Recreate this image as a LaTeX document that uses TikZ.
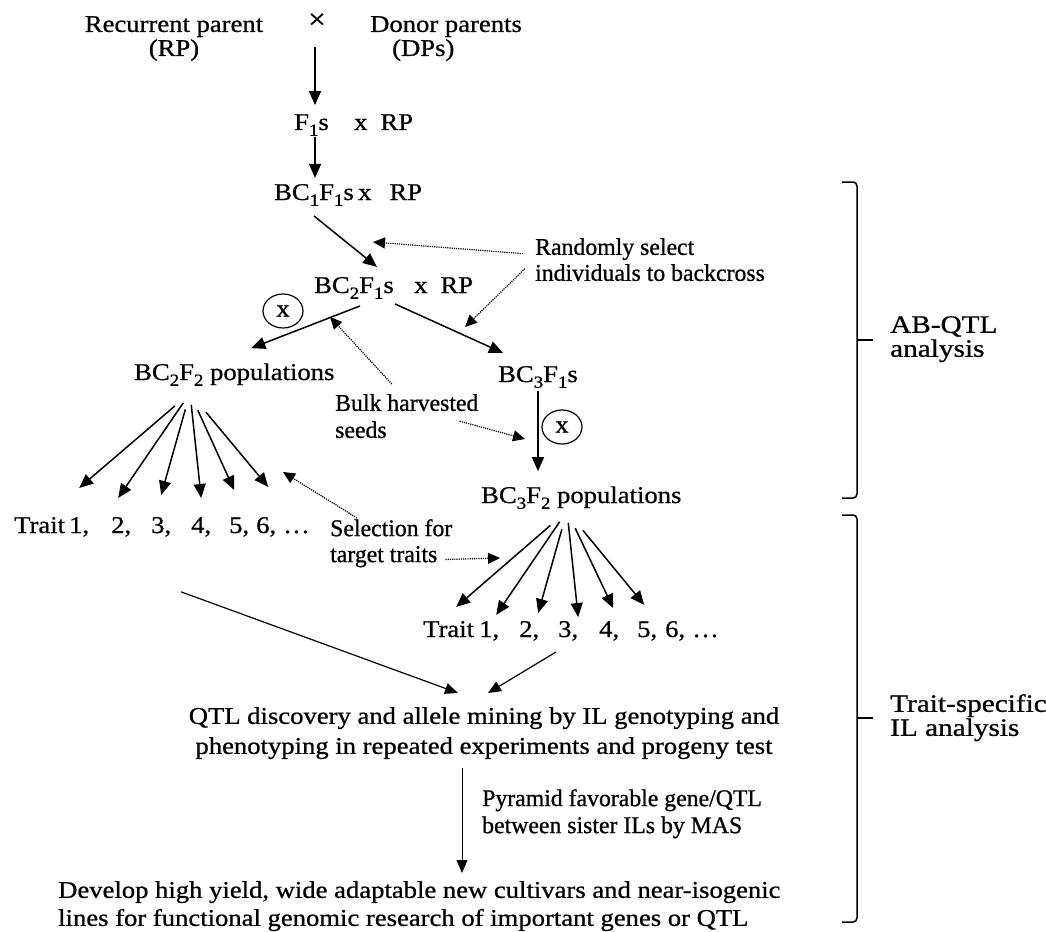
\documentclass[tikz,border=0pt]{standalone}
\usepackage{fontspec}
\setmainfont{Liberation Serif}[FakeStretch=1.11, FakeBold=0.8]
\newfontfamily\tightfont{Liberation Serif}[FakeStretch=0.99, FakeBold=0.8]
\newfontfamily\widefont{Liberation Serif}[FakeStretch=1.17, FakeBold=0.8]
\usetikzlibrary{positioning,arrows.meta,shapes.geometric}

\newcommand{\lowsub}[1]{\raisebox{-0.24em}{\fontsize{17}{17}\selectfont #1}}

\begin{document}
\begin{tikzpicture}[x=1pt, y=-1pt,
    every node/.style={inner sep=1pt, font=\fontsize{24}{24}\selectfont},
    gen/.style={anchor=base west},
    note/.style={anchor=north west, align=left},
    hintnote/.style={note, font=\tightfont\fontsize{24}{26}\selectfont},
    darrow/.style={-{Triangle[length=14pt,width=12pt]}, line width=1.5pt},
    larrow/.style={-{Triangle[length=13pt,width=11pt]}, line width=1.2pt},
    dotarrow/.style={-{Triangle[length=12pt,width=11pt]}, line width=1.2pt, densely dotted},
    selfing/.style={draw, ellipse, line width=1.2pt, minimum width=40pt, minimum height=34pt, inner sep=0pt},
    brace/.style={line width=1.5pt, rounded corners=4pt},
  ]
  \useasboundingbox (0,0) rectangle (1046,931);

  % parents
  \node[align=center, anchor=north] (rp) at (174,15) {Recurrent parent\\(RP)};
  \node[font=\fontsize{28}{28}\selectfont] (cross) at (317,21) {×};
  \node[note] (dp) at (369,15) {Donor parents\\\hspace{22pt}(DPs)};

  % backcross generations
  \node[gen] (f1) at (293,130) {F\lowsub{1}s};
  \node[gen] (f1rp) at (353,130) {x\hspace{13pt}RP};
  \node[gen] (bc1) at (273,200) {BC\lowsub{1}F\lowsub{1}s};
  \node[gen] (bc1rp) at (357,200) {x\hspace{18pt}RP};
  \node[gen] (bc2) at (313,293) {BC\lowsub{2}F\lowsub{1}s};
  \node[gen] (bc2rp) at (413,293) {x\hspace{13pt}RP};
  \node[gen] (bc3) at (497,382) {BC\lowsub{3}F\lowsub{1}s};
  \node[gen] (pop2) at (133,380) {BC\lowsub{2}F\lowsub{2} populations};
  \node[gen] (pop3) at (480,503) {BC\lowsub{3}F\lowsub{2} populations};

  \node[selfing] (selfL) at (283,311) {x};
  \node[selfing] (selfR) at (562,427) {x};

  % notes
  \node[hintnote] (randsel) at (534,237) {Randomly select\\individuals to backcross};
  \node[hintnote, font=\tightfont\fontsize{24}{27}\selectfont] (bulk) at (334,393) {Bulk harvested\\seeds};
  \node[hintnote] (selnote) at (329,518) {Selection for\\target traits};

  % trait rows
  \foreach \n/\x/\t in {l0/13/Trait, l1/68/{1,}, l2/110/{2,}, l3/150/{3,}, l4/190/{4,}, l5/228/{5,}, l6/255/{6,}, l7/282/{…}}
    \node[gen] (\n) at (\x,533) {\t};
  \foreach \n/\x/\t in {r0/422/Trait, r1/478/{1,}, r2/518/{2,}, r3/557/{3,}, r4/598/{4,}, r5/636/{5,}, r6/664/{6,}, r7/691/{…}}
    \node[gen] (\n) at (\x,637) {\t};

  \node[align=center, anchor=north] (qtl) at (484,706)
    {QTL discovery and allele mining by IL genotyping and\\[6pt]
     phenotyping in repeated experiments and progeny test};
  \node[hintnote, font=\tightfont\fontsize{24}{27}\selectfont] (pyramid) at (481,788)
    {Pyramid favorable gene/QTL\\between sister ILs by MAS};
  \node[note, font=\fontsize{24}{28}\selectfont] (develop) at (57,880)
    {Develop high yield, wide adaptable new cultivars and near-isogenic\\
     lines for functional genomic research of important genes or QTL};

  \node[note, font=\widefont\fontsize{25}{24}\selectfont] (abqtl) at (889,315) {AB-QTL\\analysis};
  \node[note, font=\widefont\fontsize{25}{24}\selectfont] (traitil) at (889,693) {Trait-specific\\IL analysis};

  % main backcross line
  \coordinate (crossfoot) at (315,47);
  \draw[darrow, shorten >=8pt] (crossfoot) -- (crossfoot |- f1.north);
  \draw[darrow, shorten >=5pt] (crossfoot |- f1.south) -- (crossfoot |- bc1.north);
  \draw[darrow] ([yshift=-9pt]bc1.south) -- ([xshift=-18pt,yshift=9pt]bc2.north east);
  \draw[darrow] ([xshift=6pt,yshift=-6pt]bc2.south) -- ([xshift=17pt,yshift=14pt]pop2.north);
  \draw[darrow] ([yshift=-4pt]bc2.south east) -- ([xshift=6pt,yshift=12pt]bc3.north west);
  \draw[darrow, shorten <=2pt, shorten >=14pt] (bc3.south) -- (bc3.south |- pop3.north);

  % dotted hints
  \coordinate (hint1) at (373,242);
  \coordinate (hint2) at (465,327);
  \coordinate (hint3) at (330,317);
  \coordinate (hint4) at (525,439);
  \coordinate (hint5) at (283,472);
  \coordinate (hint6) at (500,558);
  \draw[dotarrow] ([xshift=-11pt,yshift=6pt]randsel.west) -- (hint1);
  \draw[dotarrow] ([xshift=-9pt,yshift=-9pt]randsel.west) -- (hint2);
  \draw[dotarrow] ([xshift=-15pt,yshift=9pt]bulk.north) -- (hint3);
  \draw[dotarrow] ([xshift=-20pt,yshift=-5pt]bulk.east) -- (hint4);
  \draw[dotarrow] ([xshift=28pt]selnote.north west) -- (hint5);
  \draw[dotarrow] ([xshift=-8pt,yshift=9pt]selnote.south east) -- (hint6);

  % trait fans
  \coordinate (fanL) at (190,393);
  \foreach \i/\dx/\dy/\s in {1/0/28/20, 2/-3/18/12, 3/0/21/17, 4/0/18/12, 5/-5/26/19, 6/2/29/25}
    \draw[darrow, shorten <=\s pt] (fanL) -- ([xshift=\dx pt, yshift=\dy pt]l\i.north);
  \coordinate (fanR) at (567,511);
  \foreach \i/\dx/\dy/\s in {1/-33/13/22, 2/-33/5/13, 3/-30/7/19, 4/-31/3/12, 5/-34/12/19, 6/-31/15/25}
    \draw[darrow, shorten <=\s pt] (fanR) -- ([xshift=\dx pt, yshift=\dy pt]r\i.north);

  % into QTL discovery and on to cultivars
  \draw[larrow] ([xshift=20pt,yshift=-54pt]l3.south) -- ([xshift=-26pt,yshift=13pt]qtl.north);
  \draw[larrow] ([xshift=-12pt,yshift=-10pt]r3.south) -- ([xshift=4pt,yshift=13pt]qtl.north);
  \coordinate (pyrtop) at ([xshift=-22pt]qtl.south);
  \draw[larrow, line width=1pt, shorten <=8pt, shorten >=7pt] (pyrtop) -- (pyrtop |- develop.north);

  % brackets
  \draw[brace] (842,182) -- (857,182) -- (857,498) -- (842,498);
  \draw[brace] (857,340) -- (873,340);
  \draw[brace] (842,515) -- (857,515) -- (857,922) -- (842,922);
  \draw[brace] (857,718) -- (873,718);
\end{tikzpicture}
\end{document}
